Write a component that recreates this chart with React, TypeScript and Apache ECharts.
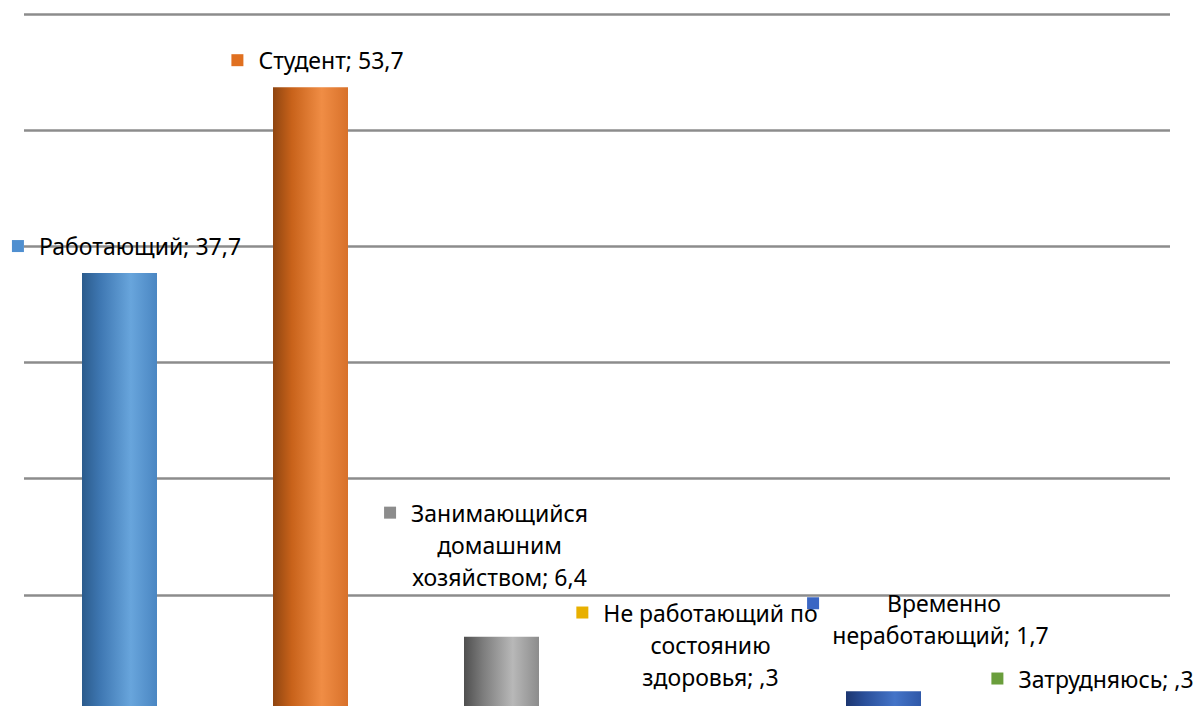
import React, { useEffect, useRef } from "react";
import * as echarts from "echarts";

const categories = [
  "Работающий",
  "Студент",
  "Занимающийся\nдомашним\nхозяйством",
  "Не работающий по\nсостоянию\nздоровья",
  "Временно\nнеработающий",
  "Затрудняюсь",
];
const values = [37.7, 53.7, 6.4, 0.3, 1.7, 0.3];
const yTicks = [0, 10, 20, 30, 40, 50, 60];

const keyColors = ["#4f8fd0", "#e07020", "#8c8c8c", "#e8b000", "#3a66c4", "#6a9e3c"];
const barStops = [
  ["#2b5b8c", "#3f78b3", "#68a5dc", "#4a86c2"],
  ["#8f4510", "#c8621a", "#f08d45", "#d8712a"],
  ["#4f4f4f", "#7c7c7c", "#b8b8b8", "#8c8c8c"],
  ["#a87c00", "#e0a800", "#ffc828", "#e8b000"],
  ["#1c3670", "#2a4f9a", "#4474c8", "#2f58a8"],
  ["#3f6420", "#5a8a30", "#80b850", "#6a9a3c"],
];
const labelOffsets = [
  [7, -6],
  [7, -6],
  [-2, -39],
  [18, -10],
  [57, -35],
  [18, -8],
];

function fmt(v: number): string {
  const s = v.toFixed(1).replace(".", ",");
  return s.startsWith("0,") ? s.slice(1) : s;
}

const FONT = "Noto Sans";
const FS = 23;

export default function App() {
  const ref = useRef<HTMLDivElement>(null);
  useEffect(() => {
    if (!ref.current) return;
    const chart = echarts.init(ref.current, null, { renderer: "svg" });
    const rich: Record<string, any> = {
      g: { width: 15 },
      b: { width: 27 },
      s5: { width: 68 },
      t5: { width: 73 },
    };
    keyColors.forEach((c, i) => {
      rich["k" + i] = { width: 12, height: 12, backgroundColor: c, verticalAlign: "middle" };
    });
    const data = values.map((v, i) => ({
      value: v,
      itemStyle: {
        color: new echarts.graphic.LinearGradient(0, 0, 1, 0, [
          { offset: 0, color: barStops[i][0] },
          { offset: 0.25, color: barStops[i][1] },
          { offset: 0.65, color: barStops[i][2] },
          { offset: 1, color: barStops[i][3] },
        ]),
      },
      label: { offset: labelOffsets[i] },
    }));
    chart.setOption({
      animation: false,
      grid: { left: 24, right: 29, top: 14, bottom: 5, containLabel: false },
      xAxis: {
        type: "category",
        data: categories,
        axisLine: { show: false },
        axisTick: { show: false },
        axisLabel: { show: false },
      },
      yAxis: {
        type: "value",
        min: yTicks[0],
        max: yTicks[yTicks.length - 1],
        interval: 10,
        axisLabel: { show: false },
        axisLine: { show: false },
        axisTick: { show: false },
        splitLine: { lineStyle: { color: "#8c8c8c", width: 2.5 } },
      },
      series: [
        {
          type: "bar",
          data,
          barWidth: 75,
          label: {
            show: true,
            position: "top",
            distance: 5,
            color: "#000",
            fontFamily: FONT,
            fontSize: FS,
            lineHeight: 32,
            align: "center",
            rich: Object.fromEntries(
              Object.entries(rich).map(([k, v]) => [
                k,
                { fontFamily: FONT, fontSize: FS, lineHeight: 32, color: "#000", ...v },
              ])
            ),
            formatter: (p: any) => {
              const i = p.dataIndex;
              const lines = (categories[i] + "; " + fmt(values[i])).split("\n");
              if (lines.length === 1) return `{k${i}|}{g|}${lines[0]}`;
              if (i === 4) {
                lines[0] = `{k${i}|}{s5|}${lines[0]}{t5|}`;
              } else {
                lines[0] = `{k${i}|}{g|}${lines[0]}{b|}`;
              }
              return lines.join("\n");
            },
          },
        },
      ],
    });
    return () => chart.dispose();
  }, []);
  return (
    <div
      ref={ref}
      style={{ position: "absolute", left: 0, top: 0, width: 1199, height: 716, background: "#fff" }}
    />
  );
}
